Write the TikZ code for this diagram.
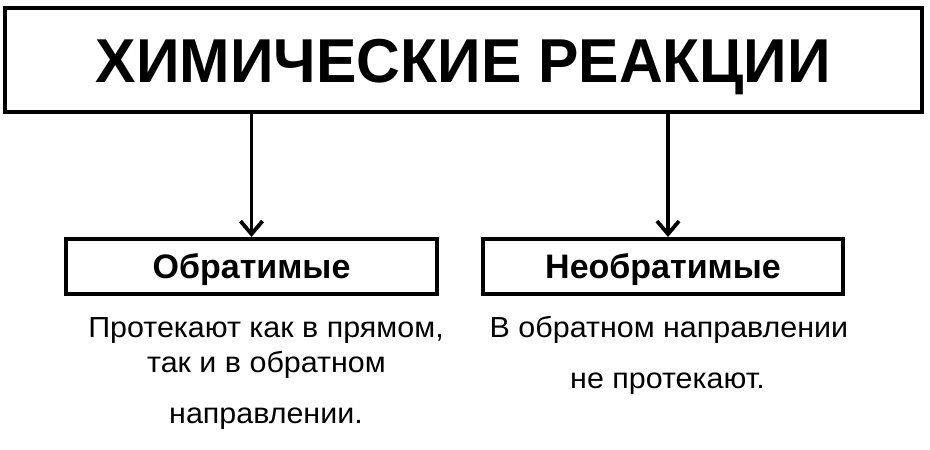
\documentclass[tikz,border=0pt]{standalone}
\usepackage{fontspec}
\setmainfont{Liberation Sans}
\newfontfamily\titlefont[FakeStretch=0.977]{Liberation Sans}
\newfontfamily\bodyfont[FakeStretch=1.05]{Liberation Sans}
\usetikzlibrary{arrows.meta,positioning}
\tikzset{
  box/.style={draw, line width=4pt, inner sep=0pt, text depth=0pt},
  head/.style={font=\bfseries\fontsize{34}{40}\selectfont, text height=24pt},
  body/.style={font=\bodyfont\fontsize{29}{34}\selectfont, anchor=base, inner sep=0pt},
}
\begin{document}
\begin{tikzpicture}[x=1pt, y=-1pt,
    >={Straight Barb[length=13pt, width=22pt, line width=3.8pt]}]
  \fill[white] (0,0) rectangle (930,450);
  \useasboundingbox (0,0) rectangle (930,450);
  % Oberer Kasten
  \node[box, minimum width=917pt, minimum height=104pt, text height=44pt,
        font=\titlefont\bfseries\fontsize{62}{70}\selectfont] (reak) at (463.5,60) {ХИМИЧЕСКИЕ РЕАКЦИИ};
  % Untere Kasten
  \node[box, head, minimum width=371pt, minimum height=55pt] (obr) at (251.5,266.5) {Обратимые};
  \node[box, head, minimum width=360pt, minimum height=55pt] (neobr) at (663,266.5) {Необратимые};
  % Pfeile
  \coordinate (neobrin) at ([xshift=5pt]neobr.north);
  \draw[->, line width=3.8pt] (reak.south -| obr.north) -- (obr.north);
  \draw[->, line width=3.8pt] (reak.south -| neobrin) -- (neobrin);
  % Beschriftung
  \node[body] (obr1) at (266,337) {Протекают как в прямом,};
  \node[body] (obr2) at (266.5,372) {так и в обратном};
  \node[body] (obr3) at (266,423) {направлении.};
  \node[body] (neobr1) at (669,337) {В обратном направлении};
  \node[body] (neobr2) at (667.5,388) {не протекают.};
\end{tikzpicture}
\end{document}
